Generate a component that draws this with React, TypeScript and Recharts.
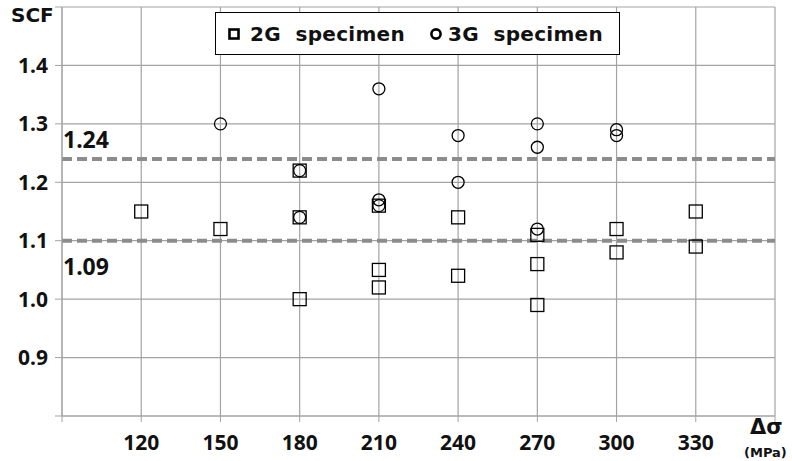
import React from "react";
import {
  ScatterChart,
  Scatter,
  XAxis,
  YAxis,
  CartesianGrid,
  ReferenceLine,
} from "recharts";

// stress range (MPa) and measured SCF per specimen
const stress2G = [120, 150, 180, 180, 180, 210, 210, 210, 240, 240, 270, 270, 270, 300, 300, 330, 330];
const scf2G = [1.15, 1.12, 1.22, 1.14, 1.0, 1.16, 1.05, 1.02, 1.14, 1.04, 1.11, 1.06, 0.99, 1.12, 1.08, 1.15, 1.09];

const stress3G = [150, 180, 180, 210, 210, 210, 240, 240, 270, 270, 270, 300, 300];
const scf3G = [1.3, 1.22, 1.14, 1.36, 1.17, 1.16, 1.28, 1.2, 1.3, 1.26, 1.12, 1.29, 1.28];

const xTicks = [90, 120, 150, 180, 210, 240, 270, 300, 330, 360];
const yTicks = [0.8, 0.9, 1.0, 1.1, 1.2, 1.3, 1.4, 1.5];

const upperLimit = 1.24;
const lowerLimit = 1.1;
const upperLabel = "1.24";
const lowerLabel = "1.09";

const data2G = stress2G.map((x, i) => ({ x, y: scf2G[i] }));
const data3G = stress3G.map((x, i) => ({ x, y: scf3G[i] }));

const NUM_FONT = "'Noto Sans', 'Open Sans', sans-serif";
const TXT_FONT = "'DejaVu Sans', sans-serif";
const GRID = "#a3a3a3";
const DASH = "#8c8c8c";

const Square = (props: any) => {
  const { cx, cy } = props;
  return <rect x={cx - 6.5} y={cy - 6.5} width={13} height={13} fill="none" stroke="#000" strokeWidth={1.3} />;
};

const Circle = (props: any) => {
  const { cx, cy } = props;
  return <circle cx={cx} cy={cy} r={6} fill="none" stroke="#000" strokeWidth={1.3} />;
};

const limitLabel = (text: string, dy: number) => (props: any) => {
  const vb = props.viewBox || {};
  return (
    <text x={vb.x + 1} y={vb.y + dy} fontFamily={NUM_FONT} fontWeight={700} fontSize={23} fill="#111">
      {text}
    </text>
  );
};

const tickStyle = { fill: "#111", fontSize: 21, fontWeight: 700, fontFamily: NUM_FONT };

export default function App() {
  return (
    <div style={{ position: "absolute", left: 0, top: 0, width: 792, height: 461, background: "#fff", overflow: "hidden" }}>
      <ScatterChart width={792} height={461} margin={{ top: 7, right: 17, bottom: 15, left: 10 }}>
        <CartesianGrid stroke={GRID} strokeWidth={1.2} />
        <XAxis
          type="number"
          dataKey="x"
          domain={[90, 360]}
          ticks={xTicks}
          tickFormatter={(v) => (v === 90 || v === 360 ? "" : String(v))}
          height={30}
          tickSize={6}
          tickMargin={13}
          stroke={GRID}
          tick={tickStyle}
          allowDataOverflow
        />
        <YAxis
          type="number"
          dataKey="y"
          domain={[0.8, 1.5]}
          ticks={yTicks}
          tickFormatter={(v) => (v === 0.8 || v === 1.5 ? "" : v.toFixed(1))}
          width={52}
          tickSize={7}
          tickMargin={7}
          stroke={GRID}
          tick={tickStyle}
          allowDataOverflow
        />
        <Scatter data={data2G} shape={<Square />} isAnimationActive={false} />
        <Scatter data={data3G} shape={<Circle />} isAnimationActive={false} />
        <ReferenceLine
          y={upperLimit}
          stroke={DASH}
          strokeWidth={4}
          strokeDasharray="10 5"
          label={limitLabel(upperLabel, -11)}
        />
        <ReferenceLine
          y={lowerLimit}
          stroke={DASH}
          strokeWidth={4}
          strokeDasharray="10 5"
          label={limitLabel(lowerLabel, 34)}
        />
      </ScatterChart>

      <div style={{ position: "absolute", left: 11, top: 5, fontFamily: TXT_FONT, fontSize: 20, lineHeight: 1, fontWeight: 700, color: "#111" }}>
        SCF
      </div>
      <div style={{ position: "absolute", left: 750, top: 417, fontFamily: TXT_FONT, fontSize: 21, lineHeight: 1, fontWeight: 700, color: "#111" }}>
        Δσ
      </div>
      <div style={{ position: "absolute", left: 744, top: 446, fontFamily: TXT_FONT, fontSize: 13, lineHeight: 1, fontWeight: 700, color: "#111" }}>
        (MPa)
      </div>

      <div
        style={{
          position: "absolute",
          left: 215,
          top: 12,
          width: 405,
          height: 43,
          border: "1.5px solid #000",
          background: "#fff",
          display: "flex",
          alignItems: "center",
          fontFamily: TXT_FONT,
          fontSize: 20,
          fontWeight: 700,
          color: "#111",
          boxSizing: "border-box",
          whiteSpace: "nowrap",
        }}
      >
        <svg width={12} height={12} style={{ marginLeft: 12, marginRight: 10 }}>
          <rect x={1.5} y={1.5} width={9} height={9} fill="none" stroke="#000" strokeWidth={2.6} />
        </svg>
        <span style={{ letterSpacing: 0.3 }}>2G&nbsp;&nbsp;specimen</span>
        <svg width={12} height={12} style={{ marginLeft: 25, marginRight: 6 }}>
          <circle cx={6} cy={6} r={4.6} fill="none" stroke="#000" strokeWidth={2.6} />
        </svg>
        <span style={{ letterSpacing: 0.3 }}>3G&nbsp;&nbsp;specimen</span>
      </div>
    </div>
  );
}
